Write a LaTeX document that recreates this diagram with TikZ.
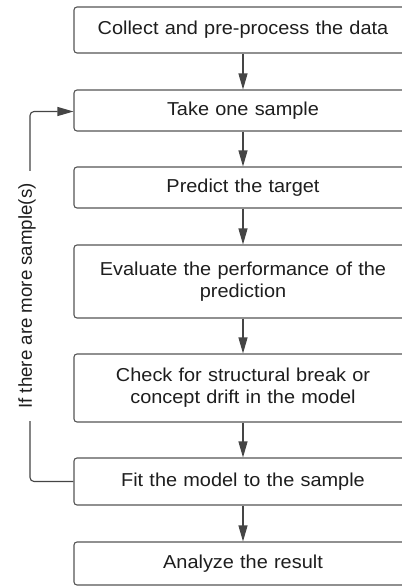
\documentclass[tikz,border=0pt]{standalone}
\usepackage{fontspec}
\setmainfont[FakeStretch=1.065]{Liberation Sans}
\newfontfamily\sidefont{Liberation Sans}
\usetikzlibrary{arrows.meta}
\definecolor{edge}{HTML}{555555}
\definecolor{ink}{HTML}{1E1E1E}
\definecolor{wire}{HTML}{454545}
\begin{document}
\begin{tikzpicture}[x=1pt,y=-1pt,
  stepbox/.style={draw=edge, line width=1.1pt, rounded corners=3pt, fill=white,
    minimum width=338pt, text width=300pt, align=center, inner sep=0pt,
    font=\fontsize{18.7}{22}\selectfont, text=ink},
  flow/.style={draw=wire, line width=1.1pt, -{Triangle[length=16pt,width=9pt]}},
]
\useasboundingbox (0,0) rectangle (402,587);
\clip (0,0) rectangle (402,587);
\fill[white] (0,0) rectangle (402,587);

% process steps
\node[stepbox, minimum height=46pt] (collect) at (243,30) {Collect and pre-process the data};
\node[stepbox, minimum height=41pt] (take) at (243,110.5) {Take one sample};
\node[stepbox, minimum height=41pt] (predict) at (243,187.5) {Predict the target};
\node[stepbox, minimum height=73pt] (evaluate) at (243,281.5) {Evaluate the performance of the\\prediction};
\node[stepbox, minimum height=68pt] (check) at (243,388) {Check for structural break or\\concept drift in the model};
\node[stepbox, minimum height=47pt] (fit) at (243,481.5) {Fit the model to the sample};
\node[stepbox, minimum height=43pt] (analyze) at (243,563.5) {Analyze the result};

% main flow
\draw[flow] (collect) -- (take);
\draw[flow] (take) -- (predict);
\draw[flow] (predict) -- (evaluate);
\draw[flow] (evaluate) -- (check);
\draw[flow] (check) -- (fit);
\draw[flow] (fit) -- (analyze);

% loop back for remaining samples
\coordinate (lowturn) at (30,481.5);
\coordinate (highturn) at (30,111.5);
\draw[flow, rounded corners=4pt] (fit.west) -- (lowturn) -- (highturn) -- (take.west |- highturn);
\node[fill=white, rotate=90, inner xsep=12pt, inner ysep=2pt, text=ink,
  font=\sidefont\fontsize{18.7}{22}\selectfont] (loop) at (27,296) {If there are more sample(s)};
\end{tikzpicture}
\end{document}
